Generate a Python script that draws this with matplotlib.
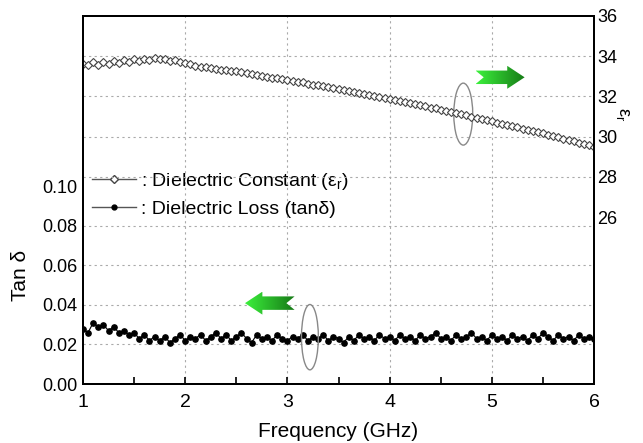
import numpy as np
import matplotlib.pyplot as plt
from matplotlib.patches import Ellipse, Polygon
from matplotlib.lines import Line2D
from matplotlib.colors import LinearSegmentedColormap

plt.rcParams['font.family'] = ['Liberation Sans', 'DejaVu Sans']
plt.rcParams['mathtext.fontset'] = 'custom'
plt.rcParams['mathtext.rm'] = 'Liberation Sans'
plt.rcParams['mathtext.it'] = 'Liberation Sans:italic'

# frequency grid (GHz), 0.05 GHz step
freq = np.round(np.arange(1.0, 6.0001, 0.05), 2)

# dielectric constant (right axis)
eps_r = [33.62, 33.55, 33.70, 33.58, 33.72, 33.60, 33.76, 33.68, 33.80, 33.72,
         33.84, 33.78, 33.88, 33.82, 33.90, 33.84, 33.86, 33.78, 33.80, 33.72,
         33.68, 33.60, 33.52, 33.46, 33.44, 33.40, 33.38, 33.32, 33.30, 33.26,
         33.24, 33.20, 33.16, 33.12, 33.08, 33.02, 32.98, 32.94, 32.90, 32.86,
         32.82, 32.78, 32.72, 32.70, 32.64, 32.58, 32.56, 32.50, 32.46, 32.42,
         32.36, 32.32, 32.26, 32.22, 32.16, 32.12, 32.06, 32.00, 31.96, 31.92,
         31.86, 31.82, 31.76, 31.70, 31.66, 31.60, 31.56, 31.50, 31.44, 31.40,
         31.34, 31.28, 31.24, 31.16, 31.12, 31.06, 31.00, 30.94, 30.88, 30.82,
         30.76, 30.70, 30.64, 30.58, 30.52, 30.46, 30.40, 30.34, 30.28, 30.22,
         30.16, 30.10, 30.02, 29.96, 29.90, 29.84, 29.76, 29.70, 29.62, 29.56,
         29.48]

# dielectric loss (left axis)
tan_d = [0.028, 0.026, 0.031, 0.029, 0.030, 0.027, 0.029, 0.026, 0.027, 0.025,
         0.026, 0.023, 0.025, 0.022, 0.024, 0.022, 0.024, 0.021, 0.023, 0.025,
         0.022, 0.024, 0.023, 0.025, 0.022, 0.024, 0.026, 0.023, 0.025, 0.022,
         0.024, 0.026, 0.023, 0.021, 0.025, 0.023, 0.024, 0.022, 0.025, 0.023,
         0.022, 0.024, 0.023, 0.025, 0.022, 0.024, 0.023, 0.025, 0.022, 0.024,
         0.023, 0.021, 0.024, 0.022, 0.025, 0.023, 0.024, 0.022, 0.025, 0.023,
         0.024, 0.022, 0.025, 0.023, 0.024, 0.022, 0.025, 0.023, 0.024, 0.026,
         0.023, 0.024, 0.022, 0.025, 0.023, 0.024, 0.026, 0.023, 0.024, 0.022,
         0.025, 0.023, 0.024, 0.022, 0.025, 0.023, 0.024, 0.022, 0.025, 0.023,
         0.026, 0.024, 0.022, 0.025, 0.023, 0.024, 0.022, 0.025, 0.023, 0.024,
         0.023]

left_ticks = [0.00, 0.02, 0.04, 0.06, 0.08, 0.10]
right_ticks = [26, 28, 30, 32, 34, 36]

fig = plt.figure(figsize=(6.43, 4.43), dpi=100)
ax = fig.add_axes([0.129, 0.133, 0.795, 0.831])
ax2 = ax.twinx()

ax.set_xlim(1, 6)
ax.set_ylim(0, 0.186)
ax2.set_ylim(17.7, 36)

# dotted grid: lower half from left axis, upper half from right axis
grid_kw = dict(color='#aaaaaa', linestyle=(0, (2, 3)), linewidth=0.8)
for x in [2, 3, 4, 5]:
    ax.axvline(x, zorder=0, **grid_kw)
for y in [0.02, 0.04, 0.06, 0.08]:
    ax.axhline(y, zorder=0, **grid_kw)
for y in [28, 30, 32, 34]:
    ax2.axhline(y, zorder=0, **grid_kw)

ax.plot(freq, tan_d, color='black', marker='o', markersize=3.8, linewidth=0.8)
ax2.plot(freq, eps_r, color='#555555', marker='D', markersize=4.5,
         markerfacecolor='white', markeredgecolor='#444444',
         markeredgewidth=0.8, linewidth=0.8)

ax.set_xticks([1, 2, 3, 4, 5, 6])
ax.set_xticks([1.5, 2.5, 3.5, 4.5, 5.5], minor=True)
ax.tick_params(axis='x', which='both', direction='in', length=5, width=1.2,
               labelsize=14, pad=7)
ax.set_yticks(left_ticks)
ax.set_yticklabels(['%.2f' % v for v in left_ticks])
ax.tick_params(axis='y', length=0, labelsize=13, pad=4)
ax2.set_yticks(right_ticks)
ax2.tick_params(axis='y', length=0, labelsize=13, pad=2)

for a in (ax, ax2):
    for s in a.spines.values():
        s.set_linewidth(1.4)

ax.set_xlabel('Frequency (GHz)', fontsize=15, labelpad=8)
ax.set_ylabel('Tan δ', fontsize=15)
ax.yaxis.set_label_coords(-0.104, 0.296)
ax2.set_ylabel(r'$\mathregular{\epsilon_r}$', fontsize=13, rotation=270)
ax2.yaxis.set_label_coords(1.072, 0.734)

handles = [
    Line2D([], [], color='#555555', marker='D', markersize=4,
           markerfacecolor='white', markeredgecolor='#444444', linewidth=1),
    Line2D([], [], color='#555555', marker='o', markersize=3.5,
           markerfacecolor='black', markeredgecolor='black', linewidth=1),
]
labels = [r': Dielectric Constant ($\mathregular{\epsilon_r}$)',
          ': Dielectric Loss (tanδ)']
ax.legend(handles, labels, loc='upper left', bbox_to_anchor=(0.002, 0.60),
          frameon=False, fontsize=14, handlelength=2.3, handletextpad=0.25,
          labelspacing=0.42, borderpad=0.4, borderaxespad=0)

# ellipses marking the curves
ax.add_patch(Ellipse((4.72, 0.1364), 0.185, 0.0313, fill=False,
                     edgecolor='#888888', linewidth=1, zorder=5))
ax.add_patch(Ellipse((3.22, 0.0237), 0.165, 0.033, fill=False,
                     edgecolor='#888888', linewidth=1, zorder=5))

cmap = LinearSegmentedColormap.from_list('g', ['#3cf03c', '#167a16'])


def green_arrow(x0, x1, yc, pointing_right):
    h = 0.0058
    s = 0.0034
    head = 0.17
    notch = 0.08
    if pointing_right:
        pts = [(x0, yc + s), (x1 - head, yc + s), (x1 - head, yc + h), (x1, yc),
               (x1 - head, yc - h), (x1 - head, yc - s), (x0, yc - s),
               (x0 + notch, yc)]
    else:
        pts = [(x1, yc + s), (x0 + head, yc + s), (x0 + head, yc + h), (x0, yc),
               (x0 + head, yc - h), (x0 + head, yc - s), (x1, yc - s),
               (x1 - notch, yc)]
    grad = np.linspace(0, 1, 100).reshape(1, -1)
    poly = Polygon(pts, closed=True, facecolor='none', edgecolor='none', zorder=6)
    ax.add_patch(poly)
    im = ax.imshow(grad, cmap=cmap, extent=[x0, x1, yc - h, yc + h],
                   aspect='auto', zorder=6)
    im.set_clip_path(poly)


green_arrow(4.84, 5.32, 0.155, True)
green_arrow(2.585, 3.07, 0.0409, False)
ax.set_xlim(1, 6)
ax.set_ylim(0, 0.186)

fig.savefig('out.png', dpi=100)
